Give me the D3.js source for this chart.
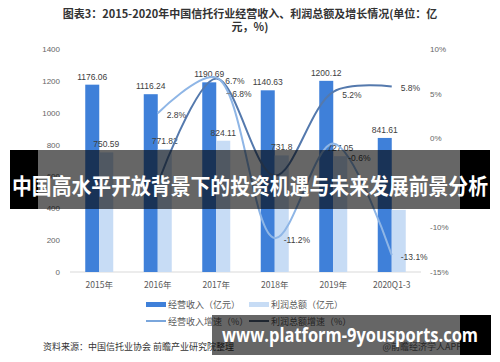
<!DOCTYPE html>
<html>
<head>
<meta charset="utf-8">
<script src="https://cdn.jsdelivr.net/npm/d3@7"></script>
<style>
  body { margin: 0; background: #fff; }
  svg { display: block; font-family: "Noto Sans CJK SC", "Noto Sans", sans-serif; }
</style>
</head>
<body>
<div id="chart"></div>
<script>
// data
var years = ["2015年", "2016年", "2017年", "2018年", "2019年", "2020Q1-3"];
var revenue = [1176.06, 1116.24, 1190.69, 1140.63, 1200.12, 841.61];
// last profit bar has no label in the picture, its height is estimated
var profit = [750.59, 771.82, 824.11, 731.8, 727.05, 390];
var profitLabels = ["750.59", "771.82", "824.11", "731.8", "727.05", ""];
var revGrowth = [null, -5.1, 6.7, -4.2, 5.2, 5.8];
var profitGrowth = [null, 2.8, 6.8, -11.2, -0.6, -13.1];
var leftTicks = [0, 200, 400, 600, 800, 1000, 1200, 1400];
var rightTicks = [-15, -10, -5, 0, 5, 10];

var width = 500, height = 362;
var margin = {top: 49, right: 79, bottom: 90, left: 70};

var svg = d3.select("#chart").append("svg")
    .attr("width", width)
    .attr("height", height);

// title
svg.append("text")
    .attr("x", 250).attr("y", 18)
    .attr("text-anchor", "middle")
    .attr("font-size", "11px").attr("font-weight", "bold").attr("fill", "#333")
    .text("图表3：2015-2020年中国信托行业经营收入、利润总额及增长情况(单位：亿");
svg.append("text")
    .attr("x", 250).attr("y", 31)
    .attr("text-anchor", "middle")
    .attr("font-size", "11px").attr("font-weight", "bold").attr("fill", "#333")
    .text("元，%)");

var x = d3.scaleBand()
    .domain(years)
    .range([margin.left, width - margin.right]);

var y = d3.scaleLinear()
    .domain([0, 1400])
    .range([height - margin.bottom, margin.top]);

var y2 = d3.scaleLinear()
    .domain([-15, 10])
    .range([height - margin.bottom, margin.top]);

// left axis
var yAxis = svg.append("g")
    .attr("transform", "translate(" + (margin.left - 10) + ",0)")
    .call(d3.axisLeft(y).tickValues(leftTicks).tickSize(0).tickPadding(0)
        .tickFormat(d3.format("d")));
yAxis.select(".domain").remove();
yAxis.selectAll("text").attr("font-size", "8px").attr("fill", "#666")
    .attr("font-family", "Liberation Sans, sans-serif");

// right axis
var yAxis2 = svg.append("g")
    .attr("transform", "translate(" + (width - margin.right + 9) + ",0)")
    .call(d3.axisRight(y2).tickValues(rightTicks).tickSize(0).tickPadding(0)
        .tickFormat(function(d) { return d + "%"; }));
yAxis2.select(".domain").remove();
yAxis2.selectAll("text").attr("font-size", "8px").attr("fill", "#666")
    .attr("font-family", "Liberation Sans, sans-serif");

// baseline
svg.append("line")
    .attr("x1", margin.left).attr("x2", width - margin.right)
    .attr("y1", y(0)).attr("y2", y(0))
    .attr("stroke", "#d9d9d9");

// x labels
svg.selectAll("text.xlab")
    .data(years)
    .enter()
    .append("text")
    .attr("class", "xlab")
    .attr("x", function(d) { return x(d) + x.bandwidth() / 2; })
    .attr("y", y(0) + 16)
    .attr("text-anchor", "middle")
    .attr("font-size", "8.5px").attr("fill", "#595959")
    .text(function(d) { return d; });

var barW = 14;

// revenue bars
svg.selectAll("rect.rev")
    .data(revenue)
    .enter()
    .append("rect")
    .attr("class", "rev")
    .attr("x", function(d, i) { return x(years[i]) + x.bandwidth() / 2 - barW; })
    .attr("y", function(d) { return y(d); })
    .attr("width", barW)
    .attr("height", function(d) { return y(0) - y(d); })
    .attr("fill", "#3f80d9");

// profit bars
svg.selectAll("rect.pro")
    .data(profit)
    .enter()
    .append("rect")
    .attr("class", "pro")
    .attr("x", function(d, i) { return x(years[i]) + x.bandwidth() / 2; })
    .attr("y", function(d) { return y(d); })
    .attr("width", barW)
    .attr("height", function(d) { return y(0) - y(d); })
    .attr("fill", "#c7dcf5");

// bar labels
svg.selectAll("text.revlab")
    .data(revenue)
    .enter()
    .append("text")
    .attr("class", "revlab")
    .attr("x", function(d, i) { return x(years[i]) + x.bandwidth() / 2 - barW / 2; })
    .attr("y", function(d) { return y(d) - 5; })
    .attr("text-anchor", "middle")
    .attr("font-size", "8.5px").attr("fill", "#404040")
    .attr("font-family", "Liberation Sans, sans-serif")
    .text(function(d) { return d; });

svg.selectAll("text.prolab")
    .data(profit)
    .enter()
    .append("text")
    .attr("class", "prolab")
    .attr("x", function(d, i) { return x(years[i]) + x.bandwidth() / 2 + barW / 2; })
    .attr("y", function(d) { return y(d) - 5; })
    .attr("text-anchor", "middle")
    .attr("font-size", "8.5px").attr("fill", "#404040")
    .attr("font-family", "Liberation Sans, sans-serif")
    .text(function(d, i) { return profitLabels[i]; });

// growth lines
var line = d3.line()
    .defined(function(d) { return d != null; })
    .x(function(d, i) { return x(years[i]) + x.bandwidth() / 2; })
    .y(function(d) { return y2(d); })
    .curve(d3.curveCatmullRom.alpha(0.5));

svg.append("path")
    .datum(revGrowth)
    .attr("d", line)
    .attr("fill", "none")
    .attr("stroke", "#5479ad")
    .attr("stroke-width", 2);

svg.append("path")
    .datum(profitGrowth)
    .attr("d", line)
    .attr("fill", "none")
    .attr("stroke", "#8fb6e6")
    .attr("stroke-width", 2);

// growth labels (2016 and 2018 revenue growth are not labelled in the picture)
var revOff = [0, 0, 3, 0, 3, 2];
var proOff = [0, 2, 16, 2, 14, 2];

revGrowth.forEach(function(d, i) {
  if (d == null || i == 1 || i == 3) return;
  svg.append("text")
      .attr("x", x(years[i]) + x.bandwidth() / 2 + 9)
      .attr("y", y2(d) + revOff[i] + 3)
      .attr("font-size", "8.5px").attr("fill", "#404040")
      .attr("font-family", "Liberation Sans, sans-serif")
      .text(d.toFixed(1) + "%");
});

profitGrowth.forEach(function(d, i) {
  if (d == null) return;
  svg.append("text")
      .attr("x", x(years[i]) + x.bandwidth() / 2 + (i == 2 ? 16 : (i == 4 ? 15 : 9)))
      .attr("y", y2(d) + proOff[i] + 3)
      .attr("font-size", "8.5px").attr("fill", "#404040")
      .attr("font-family", "Liberation Sans, sans-serif")
      .text(d.toFixed(1) + "%");
});

// small leader next to 6.8%
svg.append("line")
    .attr("x1", x(years[2]) + x.bandwidth() / 2 + 10)
    .attr("x2", x(years[2]) + x.bandwidth() / 2 + 14)
    .attr("y1", y2(6.8) + 16).attr("y2", y2(6.8) + 16)
    .attr("stroke", "#888");

// legend
var legend = svg.append("g").attr("font-size", "9px").attr("fill", "#595959");
legend.append("rect").attr("x", 146).attr("y", 302).attr("width", 20).attr("height", 5).attr("fill", "#3f80d9");
legend.append("text").attr("x", 168).attr("y", 308).text("经营收入（亿元）");
legend.append("rect").attr("x", 249).attr("y", 302).attr("width", 20).attr("height", 5).attr("fill", "#c7dcf5");
legend.append("text").attr("x", 271).attr("y", 308).text("利润总额（亿元）");
legend.append("line").attr("x1", 146).attr("x2", 166).attr("y1", 321).attr("y2", 321)
    .attr("stroke", "#7aa6dc").attr("stroke-width", 2);
legend.append("text").attr("x", 168).attr("y", 325).text("经营收入增速（%）");
legend.append("line").attr("x1", 249).attr("x2", 269).attr("y1", 321).attr("y2", 321)
    .attr("stroke", "#4f5f78").attr("stroke-width", 2);
legend.append("text").attr("x", 271).attr("y", 325).text("利润总额增速（%）");

// source
svg.append("text")
    .attr("x", 43).attr("y", 350)
    .attr("font-size", "9px").attr("fill", "#333")
    .text("资料来源：中国信托业协会 前瞻产业研究院整理");
svg.append("text")
    .attr("x", 462).attr("y", 350)
    .attr("text-anchor", "end")
    .attr("font-size", "9px").attr("fill", "#666")
    .text("@前瞻经济学人APP");

// overlay banner
svg.append("rect").attr("x", 10).attr("y", 150).attr("width", 480).attr("height", 59)
    .attr("fill", "rgba(0,0,0,0.6)");
svg.append("rect").attr("x", 10).attr("y", 150).attr("width", 28).attr("height", 59)
    .attr("fill", "#000");
svg.append("rect").attr("x", 460).attr("y", 150).attr("width", 30).attr("height", 59)
    .attr("fill", "#000");
svg.append("text")
    .attr("x", 12).attr("y", 194)
    .attr("font-size", "21.5px").attr("font-weight", "bold").attr("fill", "#fff")
    .attr("textLength", 476).attr("lengthAdjust", "spacingAndGlyphs")
    .text("中国高水平开放背景下的投资机遇与未来发展前景分析");

// overlay url
svg.append("rect").attr("x", 212).attr("y", 315).attr("width", 279).attr("height", 40)
    .attr("fill", "rgba(0,0,0,0.6)");
svg.append("rect").attr("x", 460).attr("y", 315).attr("width", 31).attr("height", 40)
    .attr("fill", "#000");
svg.append("text")
    .attr("x", 222).attr("y", 342)
    .attr("font-size", "19px").attr("font-weight", "bold").attr("fill", "#fff")
    .attr("font-family", "Open Sans, sans-serif")
    .attr("textLength", 256).attr("lengthAdjust", "spacingAndGlyphs")
    .text("www.platform-9yousports.com");
</script>
</body>
</html>
